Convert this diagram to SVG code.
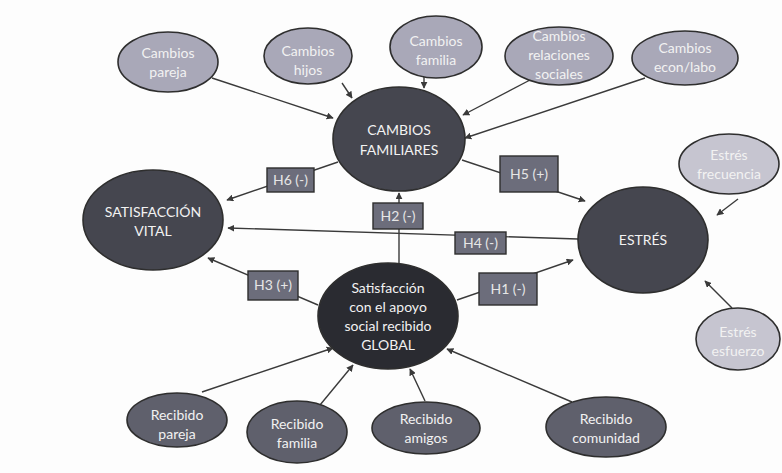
<svg xmlns="http://www.w3.org/2000/svg" width="782" height="473" viewBox="0 0 782 473">
<defs>
<marker id="ah" viewBox="0 0 10 10" refX="9" refY="5" markerWidth="7" markerHeight="7" markerUnits="userSpaceOnUse" orient="auto">
<path d="M0,0 L10,5 L0,10 z" fill="#3a3a3a"/>
</marker>
<style>
text{font-family:Lato,"Open Sans","Liberation Sans",sans-serif;font-size:14px;text-anchor:middle;fill:#f2f2f2}
.sat{fill:#a9a8b8;stroke:#2e2e2e;stroke-width:1.6}
.est{fill:#c6c5d0;stroke:#2e2e2e;stroke-width:1.6}
.main{fill:#45464f;stroke:#2e2e2e;stroke-width:1.6}
.glob{fill:#2a2b31;stroke:#2e2e2e;stroke-width:1.6}
.rec{fill:#5f606c;stroke:#2e2e2e;stroke-width:1.6}
.box{fill:#6c6d7b;stroke:#2e2e2e;stroke-width:1.4}
.c line{stroke:#3a3a3a;stroke-width:1.4;marker-end:url(#ah)}
.lbl text{fill:#e6e6e6;font-size:14px}
</style>
</defs>
<rect width="782" height="473" fill="#fdfdfd"/>
<g class="c" id="connectors">
<line x1="212" y1="78" x2="333" y2="118"/>
<line x1="342" y1="83" x2="352" y2="98"/>
<line x1="424" y1="77" x2="424" y2="88"/>
<line x1="530" y1="80" x2="463" y2="115"/>
<line x1="645" y1="78" x2="465" y2="138"/>
<line x1="338" y1="162" x2="227" y2="200"/>
<line x1="399" y1="264" x2="399" y2="193"/>
<line x1="578" y1="239" x2="228" y2="228"/>
<line x1="318" y1="305" x2="208" y2="258"/>
<line x1="457" y1="300" x2="573" y2="260"/>
<line x1="462" y1="160" x2="585" y2="201"/>
<line x1="738" y1="199" x2="717" y2="215"/>
<line x1="732" y1="308" x2="705" y2="281"/>
<line x1="202" y1="392" x2="333" y2="348"/>
<line x1="320" y1="405" x2="353" y2="365"/>
<line x1="425" y1="401" x2="410" y2="369"/>
<line x1="572" y1="402" x2="447" y2="349"/>
</g>
<g id="cambios-pareja"><ellipse class="sat" cx="168" cy="62" rx="50" ry="30"/><text x="168" y="58">Cambios</text><text x="168" y="77">pareja</text></g>
<g id="cambios-hijos"><ellipse class="sat" cx="308" cy="56" rx="44" ry="28"/><text x="308" y="56">Cambios</text><text x="308" y="75">hijos</text></g>
<g id="cambios-familia"><ellipse class="sat" cx="436" cy="47" rx="46" ry="31"/><text x="436" y="46">Cambios</text><text x="436" y="65">familia</text></g>
<g id="cambios-relaciones"><ellipse class="sat" cx="559" cy="56" rx="54" ry="29"/><text x="559" y="41">Cambios</text><text x="559" y="60">relaciones</text><text x="559" y="79">sociales</text></g>
<g id="cambios-econ"><ellipse class="sat" cx="685" cy="58" rx="53" ry="27"/><text x="685" y="53">Cambios</text><text x="685" y="72">econ/labo</text></g>
<g id="cambios-familiares"><ellipse class="main" cx="399" cy="139" rx="66" ry="52"/><text x="399" y="135">CAMBIOS</text><text x="399" y="155">FAMILIARES</text></g>
<g id="satisfaccion-vital"><ellipse class="main" cx="153" cy="220" rx="70" ry="50"/><text x="153" y="217">SATISFACCIÓN</text><text x="153" y="236">VITAL</text></g>
<g id="estres"><ellipse class="main" cx="643" cy="240" rx="65" ry="53"/><text x="643" y="245">ESTRÉS</text></g>
<g id="estres-frecuencia"><ellipse class="est" cx="729" cy="164" rx="50" ry="30"/><text x="729" y="160">Estrés</text><text x="729" y="179">frecuencia</text></g>
<g id="estres-esfuerzo"><ellipse class="est" cx="738" cy="339" rx="42" ry="31"/><text x="738" y="337">Estrés</text><text x="738" y="356">esfuerzo</text></g>
<g id="satisfaccion-global"><ellipse class="glob" cx="388" cy="316" rx="70" ry="53"/><text x="388" y="293">Satisfacción</text><text x="388" y="312">con el apoyo</text><text x="388" y="331">social recibido</text><text x="388" y="350">GLOBAL</text></g>
<g id="recibido-pareja"><ellipse class="rec" cx="177" cy="420" rx="50" ry="27"/><text x="177" y="420">Recibido</text><text x="177" y="439">pareja</text></g>
<g id="recibido-familia"><ellipse class="rec" cx="297" cy="432" rx="50" ry="31"/><text x="297" y="429">Recibido</text><text x="297" y="448">familia</text></g>
<g id="recibido-amigos"><ellipse class="rec" cx="426" cy="428" rx="54" ry="26"/><text x="426" y="424">Recibido</text><text x="426" y="443">amigos</text></g>
<g id="recibido-comunidad"><ellipse class="rec" cx="606" cy="427" rx="60" ry="30"/><text x="606" y="424">Recibido</text><text x="606" y="443">comunidad</text></g>
<g class="lbl" id="h6"><rect class="box" x="267" y="168" width="47" height="24"/><text x="290.5" y="185">H6 (-)</text></g>
<g class="lbl" id="h2"><rect class="box" x="373" y="203" width="50" height="26"/><text x="398" y="221">H2 (-)</text></g>
<g class="lbl" id="h4"><rect class="box" x="455" y="232" width="51" height="22"/><text x="480.5" y="248">H4 (-)</text></g>
<g class="lbl" id="h5"><rect class="box" x="500" y="156" width="58" height="36"/><text x="529" y="179">H5 (+)</text></g>
<g class="lbl" id="h1"><rect class="box" x="479" y="273" width="58" height="32"/><text x="508" y="294">H1 (-)</text></g>
<g class="lbl" id="h3"><rect class="box" x="248" y="271" width="50" height="29"/><text x="273" y="290">H3 (+)</text></g>
</svg>
